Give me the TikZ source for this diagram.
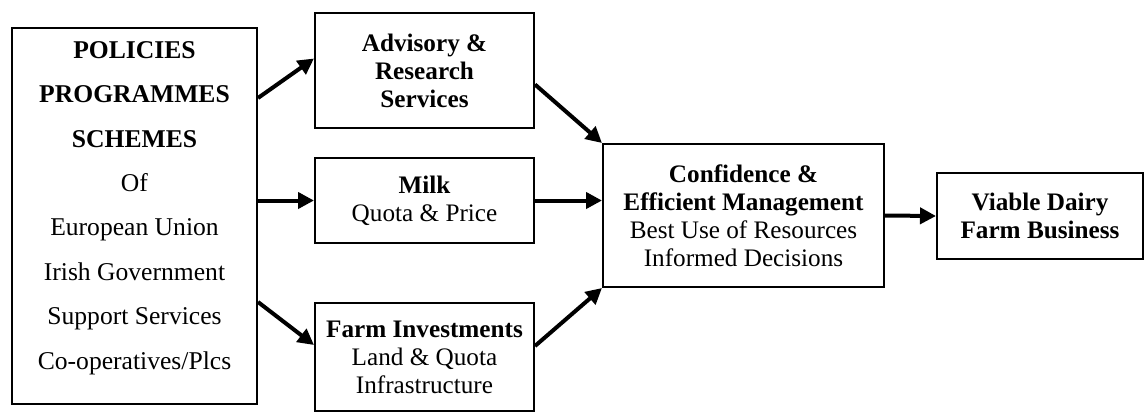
\documentclass[tikz,border=0pt]{standalone}
\usepackage{fontspec}
\setmainfont{Liberation Serif}
\usepackage{tikz}
\usetikzlibrary{arrows.meta}
\tikzset{
  Kasten/.style={draw,line width=1pt,inner sep=0pt,align=center,
    font=\fontsize{12.6}{14}\selectfont}, % für Kästen
  Pfeil/.style={line width=2pt,-{Triangle[length=8pt,width=8pt]}} % für Pfeile
}

\begin{document}
\begin{tikzpicture}[x=0.5pt,y=-0.5pt]
\useasboundingbox (0,0) rectangle (1146,413);

%Kästen
\node[Kasten,minimum width=122.5pt,minimum height=188pt] (pol) at (134.5,216) {};
\node[align=center,font=\fontsize{12.8}{22.2}\selectfont] (poltext) at (134.5,208)
  {\textbf{POLICIES}\\ \textbf{PROGRAMMES}\\ \textbf{SCHEMES}\\ Of\\
   European Union\\ Irish Government\\ Support Services\\ Co-operatives/Plcs};

\node[Kasten,minimum width=109.5pt,minimum height=57.5pt] (adv) at (424.5,70.5)
  {\textbf{Advisory \&}\\ \textbf{Research}\\ \textbf{Services}};
\node[Kasten,minimum width=109.5pt,minimum height=42.5pt] (milk) at (424.5,200.5)
  {\textbf{Milk}\\ Quota \& Price};
\node[Kasten,minimum width=109.5pt,minimum height=54pt] (farm) at (424.5,357)
  {\textbf{Farm Investments}\\ Land \& Quota\\ Infrastructure};

\node[Kasten,minimum width=140.5pt,minimum height=71.5pt] (conf) at (743.5,215.5)
  {\textbf{Confidence \&}\\ \textbf{Efficient Management}\\ Best Use of Resources\\ Informed Decisions};
\node[Kasten,minimum width=103pt,minimum height=43pt] (viab) at (1040,216)
  {\textbf{Viable Dairy}\\ \textbf{Farm Business}};

%Pfeile
\draw[Pfeil] ([yshift=59pt]pol.east) -- ([yshift=6pt]adv.west);
\draw[Pfeil] (pol.east |- milk.west) -- (milk.west);
\draw[Pfeil] ([yshift=-43pt]pol.east) -- ([yshift=6pt]farm.west);

\draw[Pfeil] ([yshift=-7pt]adv.east) -- (conf.north west);
\draw[Pfeil] (milk.east) -- (conf.west |- milk.east);
\draw[Pfeil] ([yshift=5.5pt]farm.east) -- (conf.south west);

\draw[Pfeil] (conf.east) -- (viab.west);

\end{tikzpicture}
\end{document}
